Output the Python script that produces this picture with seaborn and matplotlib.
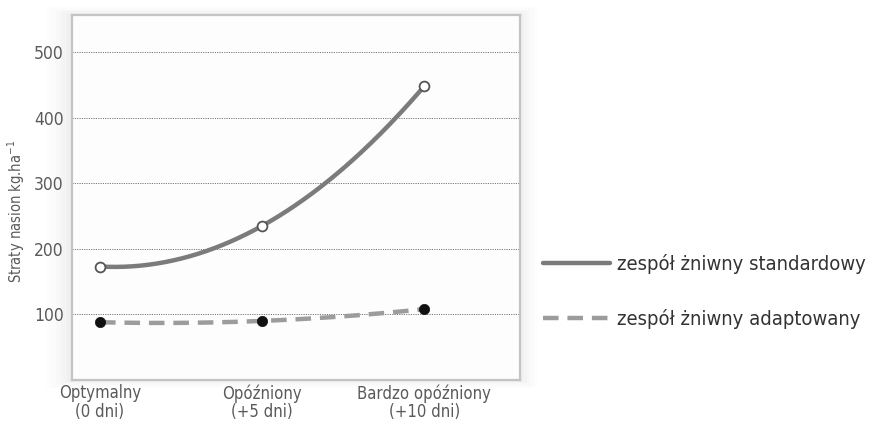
"""
Straty nasion - zespol zniwny standardowy vs adaptowany
"""
import numpy as np
import pandas as pd
import seaborn as sns
import matplotlib.pyplot as plt
from matplotlib.lines import Line2D
from matplotlib.patches import Rectangle

# %% Data
categories = ['Optymalny\n(0 dni)', 'Opóźniony\n(+5 dni)', 'Bardzo opóźniony\n(+10 dni)']
series_names = ['zespół żniwny standardowy', 'zespół żniwny adaptowany']
standard_vals = [173, 235, 448]
adapted_vals = [88, 90, 108]
y_ticks = [100, 200, 300, 400, 500]
y_label = 'Straty nasion kg.ha$^{-1}$'

TXT = '#5a5a5a'
LINE_STD = '#7b7b7b'
LINE_ADP = '#9c9c9c'

sns.set_theme(style='white')
plt.rcParams['font.family'] = ['DejaVu Sans']
plt.rcParams['font.stretch'] = 'condensed'
plt.rcParams['mathtext.fontset'] = 'dejavusans'

df = pd.DataFrame({
    'x': list(range(len(categories))) * 2,
    'y': standard_vals + adapted_vals,
    'series': [series_names[0]] * 3 + [series_names[1]] * 3,
})

# smooth curves through the points (quadratic, as in the original drawing)
xs = np.linspace(0, len(categories) - 1, 200)
smooth = []
for name, vals in zip(series_names, [standard_vals, adapted_vals]):
    coef = np.polyfit(range(len(vals)), vals, 2)
    smooth.append(pd.DataFrame({'x': xs, 'y': np.polyval(coef, xs), 'series': name}))
smooth = pd.concat(smooth)

# %% Figure
fig = plt.figure(figsize=(8.78, 4.24), dpi=100)
ax = fig.add_axes([0.082, 0.104, 0.51, 0.861])
ax.set_facecolor('#fdfdfd')

# soft shadow behind the plot box
for i, a in enumerate([0.02, 0.015, 0.012, 0.009, 0.006]):
    d = (i + 1) * 0.004
    fig.patches.append(Rectangle((0.082 - d * 1.5, 0.104 - d), 0.51 + 2.5 * d, 0.861 + 2 * d,
                                 transform=fig.transFigure, facecolor='black',
                                 alpha=a, edgecolor='none', zorder=-5))

sns.lineplot(data=smooth[smooth.series == series_names[0]], x='x', y='y',
             color=LINE_STD, lw=3.2, ax=ax, legend=False, zorder=3)
sns.lineplot(data=smooth[smooth.series == series_names[1]], x='x', y='y',
             color=LINE_ADP, lw=3.2, ax=ax, legend=False, zorder=3)
ax.lines[-1].set_dashes([3.5, 2.0])

sns.scatterplot(data=df[df.series == series_names[0]], x='x', y='y', s=50,
                color='white', edgecolor='#555555', linewidth=1.3, ax=ax, zorder=5)
sns.scatterplot(data=df[df.series == series_names[1]], x='x', y='y', s=55,
                color='#111111', edgecolor='#111111', linewidth=0.5, ax=ax, zorder=5)

# %% Axes styling
ax.set_xlim(-0.173, 2.59)
ax.set_ylim(0, 557)
ax.set_yticks(y_ticks)
ax.set_xticks(range(len(categories)))
ax.set_xticklabels(categories, fontsize=12, color=TXT, linespacing=1.05)
ax.tick_params(axis='y', length=0, labelsize=12.5, labelcolor=TXT, pad=6)
ax.tick_params(axis='x', direction='in', length=5, width=0.8, color='#777777', pad=3)
for t in ax.xaxis.get_major_ticks():
    t.tick1line.set_linestyle(':')
ax.set_xlabel('')
ax.set_ylabel(y_label, fontsize=10.5, color=TXT)
ax.yaxis.set_label_coords(-0.10, 0.46)
ax.yaxis.grid(True, linestyle=(0, (1.2, 1.2)), color='#777777', lw=0.7)
ax.xaxis.grid(False)
for side, sp in ax.spines.items():
    sp.set_visible(True)
    sp.set_color('#c4c4c4')
    sp.set_linewidth(1.6)

# %% Legend
handles = [Line2D([], [], color=LINE_STD, lw=3.2),
           Line2D([], [], color=LINE_ADP, lw=3.2, dashes=[3.5, 2.0])]
fig.legend(handles, series_names, loc='center left', bbox_to_anchor=(0.618, 0.3125),
           frameon=False, fontsize=14.5, handlelength=3.33, handletextpad=0.35,
           labelspacing=1.75, labelcolor='#333333', borderpad=0, borderaxespad=0)

fig.savefig('out.png', dpi=100)
